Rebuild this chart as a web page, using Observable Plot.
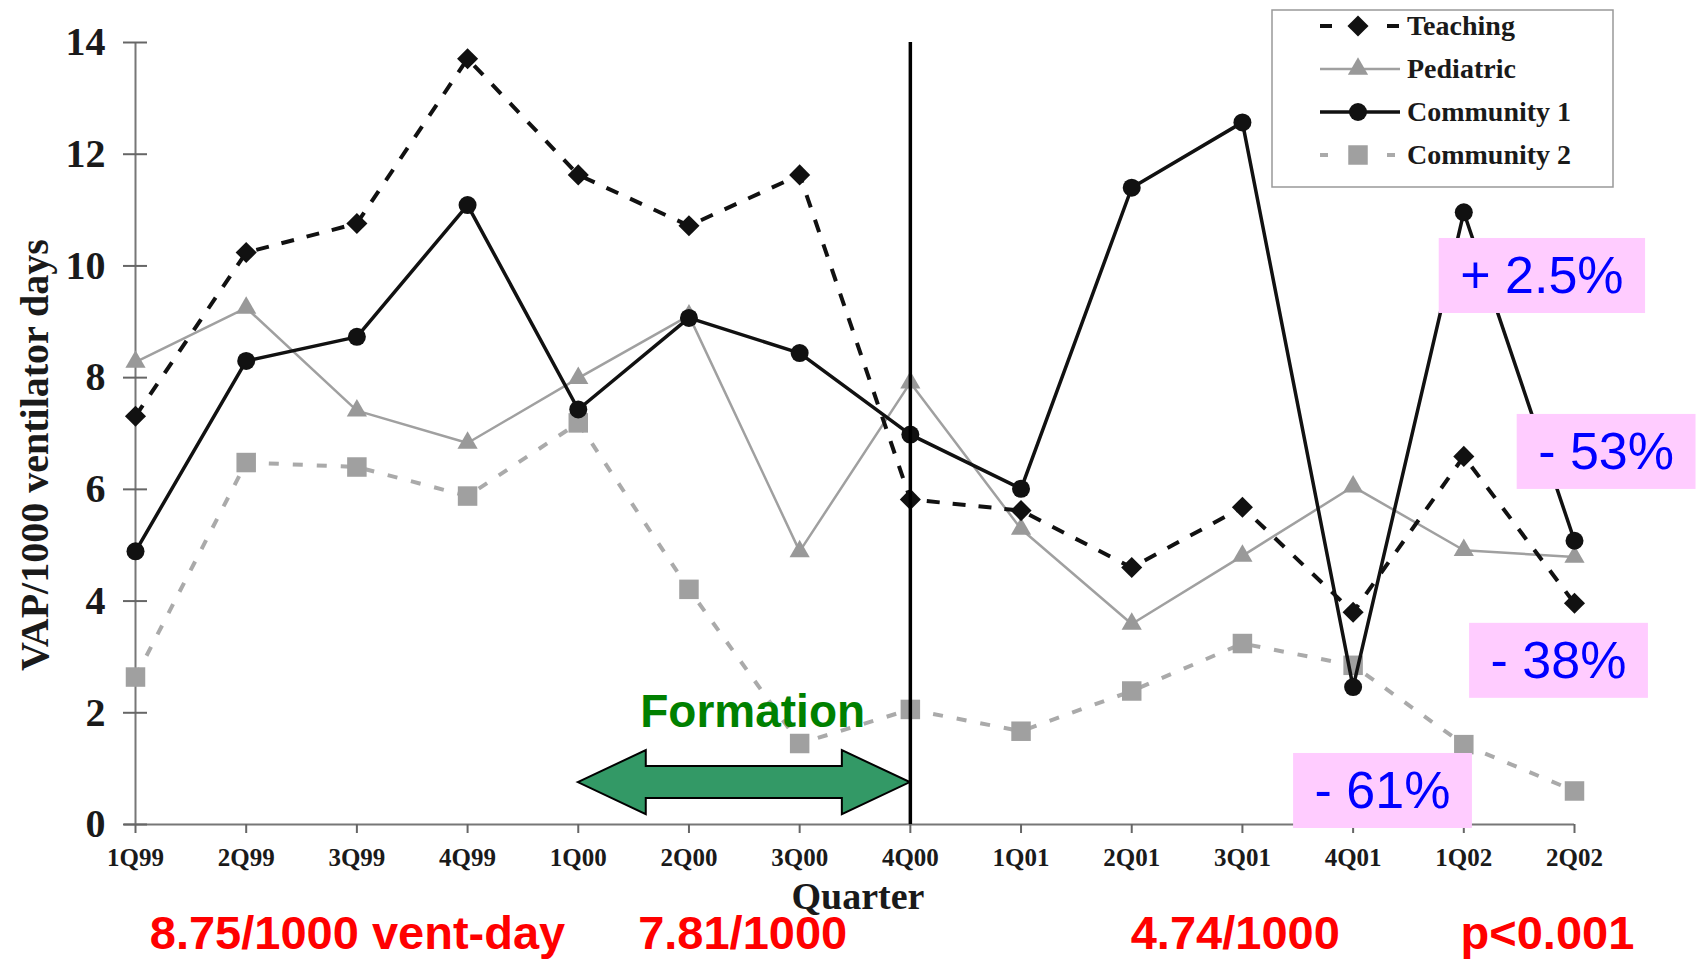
<!DOCTYPE html>
<html><head><meta charset="utf-8">
<script src="https://cdn.jsdelivr.net/npm/d3@7"></script>
<script src="https://cdn.jsdelivr.net/npm/@observablehq/plot@0.6"></script>
<style>body{margin:0;background:#fff} #chart svg{display:block}</style>
</head><body><div id="chart"></div>
<script>
// ---------- data ----------
const quarters = ["1Q99","2Q99","3Q99","4Q99","1Q00","2Q00","3Q00","4Q00","1Q01","2Q01","3Q01","4Q01","1Q02","2Q02"];
const teaching   = [7.31,10.24,10.76,13.71,11.63,10.72,11.63,5.82,5.62,4.60,5.68,3.80,6.59,3.96];
const pediatric  = [8.28,9.25,7.41,6.83,7.99,9.11,4.89,7.91,5.29,3.59,4.81,6.05,4.91,4.79];
const community1 = [4.89,8.30,8.73,11.09,7.43,9.07,8.44,6.98,6.01,11.40,12.57,2.46,10.96,5.08];
const community2 = [2.64,6.48,6.40,5.88,7.19,4.21,1.45,2.06,1.67,2.39,3.24,2.85,1.43,0.60];
const yTicks = [0,2,4,6,8,10,12,14];
const seriesNames = ["Teaching","Pediatric","Community 1","Community 2"];
const yLabel = "VAP/1000 ventilator days";
const xLabel = "Quarter";
// percentage-change call-outs (position in quarter index / rate units)
const changeLabels = ["+ 2.5%","- 53%","- 38%","- 61%"];
const changeX = [12.71,13.29,12.86,11.27];
const changeY = [9.82,6.67,2.93,0.60];
// period rates under the axis (position in quarter index)
const rateLabels = ["8.75/1000 vent-day","7.81/1000","4.74/1000","p<0.001"];
const rateX = [2.01,5.49,9.94,12.76];
// formation period
const formationLabel = "Formation";
const formationStart = 4, formationEnd = 7, formationY = 0.75;
const formationLabelX = 5.58, formationLabelY = 1.74;
const interventionQuarter = 7;

// ---------- styles ----------
const serif = "'Liberation Serif','Times New Roman',serif";
const sans = "'Liberation Sans',Arial,Helvetica,sans-serif";
const seriesValues = [teaching, pediatric, community1, community2];
const styles = [
  {stroke:"#111", width:4,   dash:"13,13", legendDash:"12,55", symbol:"diamond2", d3sym:d3.symbolDiamond2, r:9.5, fill:"#111"},
  {stroke:"#a0a0a0", width:2.5, dash:null, legendDash:null, symbol:"triangle", d3sym:d3.symbolTriangle, r:7.5, fill:"#999"},
  {stroke:"#111", width:3.5, dash:null, legendDash:null, symbol:"circle", d3sym:d3.symbolCircle, r:9, fill:"#111"},
  {stroke:"#aaa", width:4,   dash:"10,14", legendDash:"8,59", symbol:"square", d3sym:d3.symbolSquare, r:11, fill:"#a0a0a0"}
];
const drawOrder = [3,1,0,2];

const seriesMarks = [];
for (const k of drawOrder) {
  const rows = seriesValues[k].map((v,i)=>({i, v}));
  const s = styles[k];
  seriesMarks.push(Plot.line(rows, {x:"i", y:"v", stroke:s.stroke, strokeWidth:s.width,
    strokeDasharray:s.dash || undefined, strokeLinecap:"butt", strokeLinejoin:"round"}));
  seriesMarks.push(Plot.dot(rows, {x:"i", y:"v", symbol:s.symbol, r:s.r, fill:s.fill, stroke:"none"}));
}

const measureCtx = document.createElement("canvas").getContext("2d");

function overlay(index, scales, values, dimensions) {
  const x = scales.x, y = scales.y;
  const g = d3.create("svg:g").attr("text-anchor","start");
  // formation arrow
  const x0 = x(formationStart), x1 = x(formationEnd), yc = y(formationY);
  const L = 68, sh = 16, hh = 32;
  const pts = [[x0,yc],[x0+L,yc-hh],[x0+L,yc-sh],[x1-L,yc-sh],[x1-L,yc-hh],[x1,yc],
               [x1-L,yc+hh],[x1-L,yc+sh],[x0+L,yc+sh],[x0+L,yc+hh]];
  g.append("polygon").attr("points", pts.map(p=>p.join(",")).join(" "))
    .attr("fill","#339966").attr("stroke","#000").attr("stroke-width",2).attr("stroke-linejoin","miter");
  g.append("text").attr("x", x(formationLabelX)).attr("y", y(formationLabelY))
    .attr("text-anchor","middle").attr("font-family",sans).attr("font-weight","bold")
    .attr("font-size",46).attr("fill","#008000").text(formationLabel);
  // change boxes
  measureCtx.font = "52px 'Liberation Sans', Arial";
  changeLabels.forEach((t,k)=>{
    const w = measureCtx.measureText(t).width + 43, h = 75;
    const cx = x(changeX[k]), cy = y(changeY[k]);
    g.append("rect").attr("x",cx-w/2).attr("y",cy-h/2).attr("width",w).attr("height",h).attr("fill","#ffccff");
    g.append("text").attr("x",cx).attr("y",cy+18).attr("text-anchor","middle")
      .attr("font-family",sans).attr("font-size",52).attr("fill","#0000ff").text(t);
  });
  // period rates
  rateLabels.forEach((t,k)=>{
    g.append("text").attr("x",x(rateX[k])).attr("y",dimensions.height-10).attr("text-anchor","middle")
      .attr("font-family",sans).attr("font-weight","bold").attr("font-size",47).attr("fill","#ff0000").text(t);
  });
  // axis titles
  g.append("text").attr("transform","translate(48,455) rotate(-90)").attr("text-anchor","middle")
    .attr("font-family",serif).attr("font-weight","bold").attr("font-size",40).attr("fill","#1a1a1a").text(yLabel);
  g.append("text").attr("x",858).attr("y",909).attr("text-anchor","middle")
    .attr("font-family",serif).attr("font-weight","bold").attr("font-size",38).attr("fill","#1a1a1a").text(xLabel);
  // legend
  const lg = g.append("g");
  lg.append("rect").attr("x",1272).attr("y",10).attr("width",341).attr("height",177)
    .attr("fill","#fff").attr("stroke","#999").attr("stroke-width",1.5);
  seriesNames.forEach((name,k)=>{
    const s = styles[k], base = 35 + k*43, cyy = base - 9;
    const ln = lg.append("line").attr("x1",1320).attr("x2",1400).attr("y1",cyy).attr("y2",cyy)
      .attr("stroke",s.stroke).attr("stroke-width",s.width);
    if (s.legendDash) ln.attr("stroke-dasharray",s.legendDash);
    lg.append("path").attr("d", d3.symbol(s.d3sym, Math.PI*s.r*s.r)()).attr("transform",`translate(1358,${cyy})`)
      .attr("fill",s.fill);
    lg.append("text").attr("x",1407).attr("y",base).attr("text-anchor","start").attr("font-family",serif)
      .attr("font-weight","bold").attr("font-size",28).attr("fill","#1a1a1a").text(name);
  });
  return g.node();
}

const chart = Plot.plot({
  width: 1698, height: 959,
  marginLeft: 135, marginRight: 124, marginTop: 42, marginBottom: 135,
  x: {type:"linear", domain:[0,13]},
  y: {domain:[0,14]},
  style: {fontFamily: serif, color:"#1a1a1a", background:"#fff", overflow:"visible"},
  marks: [
    Plot.ruleY([0], {stroke:"#777", strokeWidth:2, x1:-0.1, x2:13}),
    Plot.ruleX([0], {y1:0, y2:14, stroke:"#777", strokeWidth:2}),
    Plot.axisY({ticks:yTicks, tickSize:24, dx:12, text:null, label:null, stroke:"#666", strokeWidth:2}),
    Plot.axisY({ticks:yTicks, tickSize:0, tickPadding:30, fontSize:40, fontWeight:"bold", label:null}),
    Plot.axisX({ticks:d3.range(quarters.length), tickFormat:i=>quarters[i], tickSize:9, tickPadding:15,
      fontSize:25, fontWeight:"bold", label:null, stroke:"#666", strokeWidth:2}),
    ...seriesMarks,
    Plot.ruleX([interventionQuarter], {y1:0, y2:14, stroke:"#000", strokeWidth:3.5}),
    overlay
  ]
});
document.getElementById("chart").appendChild(chart);
</script>
</body></html>
